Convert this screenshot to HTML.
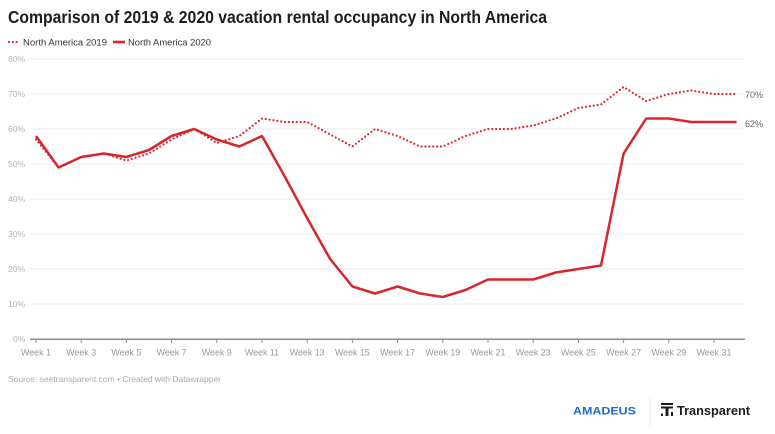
<!DOCTYPE html>
<html><head><meta charset="utf-8"><style>
html,body{margin:0;padding:0;background:#fff;}
svg{display:block;}
text{font-family:"Liberation Sans",Arial,sans-serif;}
</style></head><body>
<svg width="775" height="434" viewBox="0 0 775 434" xmlns="http://www.w3.org/2000/svg">
<rect width="775" height="434" fill="#fff"/>
<text x="8" y="23" font-size="17.5" font-weight="bold" fill="#1d1d1d" textLength="539" lengthAdjust="spacingAndGlyphs">Comparison of 2019 &amp; 2020 vacation rental occupancy in North America</text>
<!-- legend -->
<line x1="9" y1="42" x2="18" y2="42" stroke="#d8262c" stroke-width="2.2" stroke-linecap="round" stroke-dasharray="0 3.8"/>
<text x="23" y="45.5" font-size="9.6" fill="#333" textLength="84" lengthAdjust="spacingAndGlyphs">North America 2019</text>
<line x1="113" y1="42" x2="125" y2="42" stroke="#d8262c" stroke-width="2.6"/>
<text x="128" y="45.5" font-size="9.6" fill="#333" textLength="83" lengthAdjust="spacingAndGlyphs">North America 2020</text>
<!-- grid -->
<g stroke="#ececec" stroke-width="1">
<line x1="30" y1="59" x2="745" y2="59"/>
<line x1="30" y1="94" x2="745" y2="94"/>
<line x1="30" y1="129" x2="745" y2="129"/>
<line x1="30" y1="164" x2="745" y2="164"/>
<line x1="30" y1="199" x2="745" y2="199"/>
<line x1="30" y1="234" x2="745" y2="234"/>
<line x1="30" y1="269" x2="745" y2="269"/>
<line x1="30" y1="304" x2="745" y2="304"/>
</g>
<g font-size="8.5" fill="#b3b3b3">
<text x="8" y="62">80%</text>
<text x="8" y="97">70%</text>
<text x="8" y="132">60%</text>
<text x="8" y="167">50%</text>
<text x="8" y="202">40%</text>
<text x="8" y="237">30%</text>
<text x="8" y="272">20%</text>
<text x="8" y="307">10%</text>
<text x="13" y="342">0%</text>
</g>
<line x1="30" y1="339.3" x2="745" y2="339.3" stroke="#8a8a8a" stroke-width="1.5"/>
<g stroke="#8a8a8a" stroke-width="1">
<line x1="36" y1="339" x2="36" y2="343"/>
<line x1="81.2" y1="339" x2="81.2" y2="343"/>
<line x1="126.4" y1="339" x2="126.4" y2="343"/>
<line x1="171.6" y1="339" x2="171.6" y2="343"/>
<line x1="216.8" y1="339" x2="216.8" y2="343"/>
<line x1="262" y1="339" x2="262" y2="343"/>
<line x1="307.2" y1="339" x2="307.2" y2="343"/>
<line x1="352.4" y1="339" x2="352.4" y2="343"/>
<line x1="397.6" y1="339" x2="397.6" y2="343"/>
<line x1="442.8" y1="339" x2="442.8" y2="343"/>
<line x1="488" y1="339" x2="488" y2="343"/>
<line x1="533.2" y1="339" x2="533.2" y2="343"/>
<line x1="578.4" y1="339" x2="578.4" y2="343"/>
<line x1="623.6" y1="339" x2="623.6" y2="343"/>
<line x1="668.8" y1="339" x2="668.8" y2="343"/>
<line x1="714" y1="339" x2="714" y2="343"/>
</g>
<g font-size="8.9" fill="#999" text-anchor="middle">
<text x="36" y="355.5">Week 1</text>
<text x="81.2" y="355.5">Week 3</text>
<text x="126.4" y="355.5">Week 5</text>
<text x="171.6" y="355.5">Week 7</text>
<text x="216.8" y="355.5">Week 9</text>
<text x="262" y="355.5">Week 11</text>
<text x="307.2" y="355.5">Week 13</text>
<text x="352.4" y="355.5">Week 15</text>
<text x="397.6" y="355.5">Week 17</text>
<text x="442.8" y="355.5">Week 19</text>
<text x="488" y="355.5">Week 21</text>
<text x="533.2" y="355.5">Week 23</text>
<text x="578.4" y="355.5">Week 25</text>
<text x="623.6" y="355.5">Week 27</text>
<text x="668.8" y="355.5">Week 29</text>
<text x="714" y="355.5">Week 31</text>
</g>
<!-- 2019 dotted -->
<polyline fill="none" stroke="#d8262c" stroke-width="2.2" stroke-linecap="round" stroke-linejoin="round" stroke-dasharray="0 3.9"
points="36,139.5 58.6,167.5 81.2,157 103.8,153.5 126.4,160.5 149,153.5 171.6,139.5 194.2,129 216.8,143 239.4,136 262,118.5 284.6,122 307.2,122 329.8,134.25 352.4,146.5 375,129 397.6,136 420.2,146.5 442.8,146.5 465.4,136 488,129 510.6,129 533.2,125.5 555.8,118.5 578.4,108 601,104.5 623.6,87 646.2,101 668.8,94 691.4,90.5 714,94 736.6,94"/>
<!-- 2020 solid -->
<polyline fill="none" stroke="#d8262c" stroke-width="2.5" stroke-linejoin="round"
points="36,136 58.6,167.5 81.2,157 103.8,153.5 126.4,157 149,150 171.6,136 194.2,129 216.8,139.5 239.4,146.5 262,136 284.6,176.25 307.2,218.25 329.8,258.5 352.4,286.5 375,293.5 397.6,286.5 420.2,293.5 442.8,297 465.4,290 488,279.5 510.6,279.5 533.2,279.5 555.8,272.5 578.4,269 601,265.5 623.6,153.5 646.2,118.5 668.8,118.5 691.4,122 714,122 736.6,122"/>
<g font-size="9" fill="#666">
<text x="745" y="98">70%</text>
<text x="745" y="127">62%</text>
</g>
<text x="8" y="382" font-size="8.5" fill="#aaa" textLength="213" lengthAdjust="spacingAndGlyphs">Source: seetransparent.com • Created with Datawrapper</text>
<!-- logos -->
<text x="573" y="414.5" font-size="11" font-weight="bold" fill="#1a6cc8" textLength="63" lengthAdjust="spacingAndGlyphs">AMADEUS</text>
<line x1="650" y1="398" x2="650" y2="427" stroke="#eeeeee" stroke-width="1"/>
<g fill="#1d1d1d">
<rect x="661" y="403" width="12" height="2"/>
<rect x="661" y="406.5" width="12" height="2"/>
<rect x="665.5" y="408" width="3" height="8"/>
<rect x="661" y="413.5" width="2" height="2.5"/>
<rect x="671" y="412" width="2" height="4"/>
</g>
<text x="677" y="415" font-size="12.5" font-weight="bold" fill="#1d1d1d" textLength="73" lengthAdjust="spacingAndGlyphs">Transparent</text>
</svg>
</body></html>
